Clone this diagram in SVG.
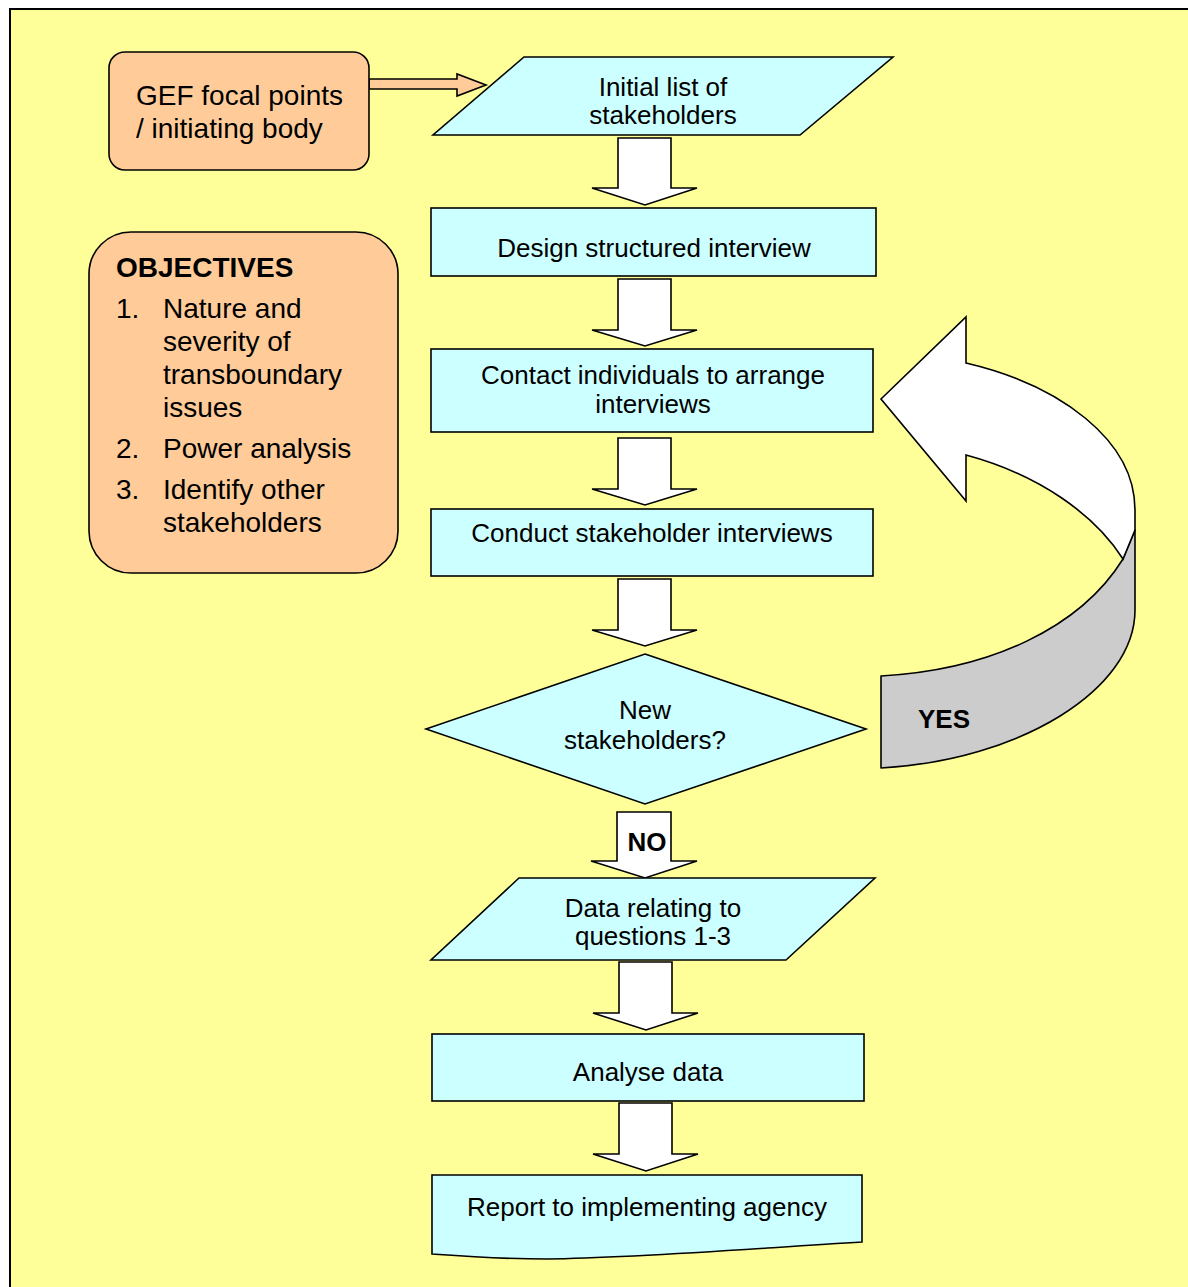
<svg xmlns="http://www.w3.org/2000/svg" width="1188" height="1287" viewBox="0 0 1188 1287">
<style>
.t{font-family:"Liberation Sans",Arial,sans-serif;font-size:26px;fill:#000;text-anchor:middle}
.l{font-family:"Liberation Sans",Arial,sans-serif;font-size:28px;fill:#000}
.b{font-weight:bold}
.box{fill:#CCFFFF;stroke:#000;stroke-width:1.6}
.peach{fill:#FFCC99;stroke:#000;stroke-width:1.6}
.barrow{fill:#FFFFFF;stroke:#000;stroke-width:1.6;stroke-linejoin:miter}
</style>
<rect x="10" y="9" width="1200" height="1300" fill="#FFFF99" stroke="#000" stroke-width="2"/>

<g id="connectors">
  <path id="c-gef" class="peach" stroke-width="1.4" d="M369,79 H457 V74 L486,85 L457,96 V89 H369 Z"/>
  <path id="c1" class="barrow" d="M618,138 H671 V188 H697 L645,205 L592,188 H618 Z"/>
  <path id="c2" class="barrow" d="M618,279 H671 V330 H697 L645,346 L592,330 H618 Z"/>
  <path id="c3" class="barrow" d="M618,438 H671 V489 H697 L645,505 L592,489 H618 Z"/>
  <path id="c4" class="barrow" d="M618,579 H671 V630 H697 L645,646 L592,630 H618 Z"/>
  <g id="c-no">
    <path class="barrow" d="M617,812 H671 V861 H697 L645,878 L591,861 H617 Z"/>
    <text class="t b" x="647" y="851" font-size="27">NO</text>
  </g>
  <path id="c5" class="barrow" d="M619,962 H672 V1013 H698 L646,1030 L593,1013 H619 Z"/>
  <path id="c6" class="barrow" d="M619,1103 H672 V1154 H698 L646,1171 L593,1154 H619 Z"/>
  <g id="c-yes">
    <path fill="#CCCCCC" stroke="#000" stroke-width="1.6" stroke-linejoin="round" d="M881,676 C990,670 1080,628 1123,559 L1135,530 V610 C1135,690 1020,760 881,768 Z"/>
    <path fill="#FFFFFF" stroke="#000" stroke-width="1.6" stroke-linejoin="miter" d="M881,399 L966,317 V363 C1060,385 1135,440 1135,510 V530 L1123,559 C1095,515 1040,475 966,455 V501 Z"/>
    <text class="t b" x="944" y="728" font-size="27">YES</text>
  </g>
</g>

<g id="n-gef">
  <rect class="peach" x="109" y="52" width="260" height="118" rx="16"/>
  <text class="l" x="136" y="105">GEF focal points</text>
  <text class="l" x="136" y="138">/ initiating body</text>
</g>

<g id="n-objectives">
  <rect class="peach" x="89" y="232" width="309" height="341" rx="42"/>
  <text class="l b" x="116" y="277" font-size="27">OBJECTIVES</text>
  <text class="l" x="116" y="318">1.</text>
  <text class="l" x="163" y="318">Nature and</text>
  <text class="l" x="163" y="351">severity of</text>
  <text class="l" x="163" y="384">transboundary</text>
  <text class="l" x="163" y="417">issues</text>
  <text class="l" x="116" y="458">2.</text>
  <text class="l" x="163" y="458">Power analysis</text>
  <text class="l" x="116" y="499">3.</text>
  <text class="l" x="163" y="499">Identify other</text>
  <text class="l" x="163" y="532">stakeholders</text>
</g>

<g id="n-initial">
  <polygon class="box" points="524,57 893,57 800,135 433,135"/>
  <text class="t" x="663" y="96">Initial list of</text>
  <text class="t" x="663" y="124">stakeholders</text>
</g>

<g id="n-design">
  <rect class="box" x="431" y="208" width="445" height="68"/>
  <text class="t" x="654" y="257">Design structured interview</text>
</g>

<g id="n-contact">
  <rect class="box" x="431" y="349" width="442" height="83"/>
  <text class="t" x="653" y="384">Contact individuals to arrange</text>
  <text class="t" x="653" y="413">interviews</text>
</g>

<g id="n-conduct">
  <rect class="box" x="431" y="509" width="442" height="67"/>
  <text class="t" x="652" y="542">Conduct stakeholder interviews</text>
</g>

<g id="n-decision">
  <polygon class="box" points="645,654 866,729 645,804 426,729"/>
  <text class="t" x="645" y="719">New</text>
  <text class="t" x="645" y="749">stakeholders?</text>
</g>

<g id="n-data">
  <polygon class="box" points="519,878 875,878 786,960 431,960"/>
  <text class="t" x="653" y="917">Data relating to</text>
  <text class="t" x="653" y="945">questions 1-3</text>
</g>

<g id="n-analyse">
  <rect class="box" x="432" y="1034" width="432" height="67"/>
  <text class="t" x="648" y="1081">Analyse data</text>
</g>

<g id="n-report">
  <path class="box" d="M432,1175 H862 V1242 C760,1248 640,1258 547,1259 C500,1259 460,1256 432,1254 Z"/>
  <text class="t" x="647" y="1216">Report to implementing agency</text>
</g>
</svg>
